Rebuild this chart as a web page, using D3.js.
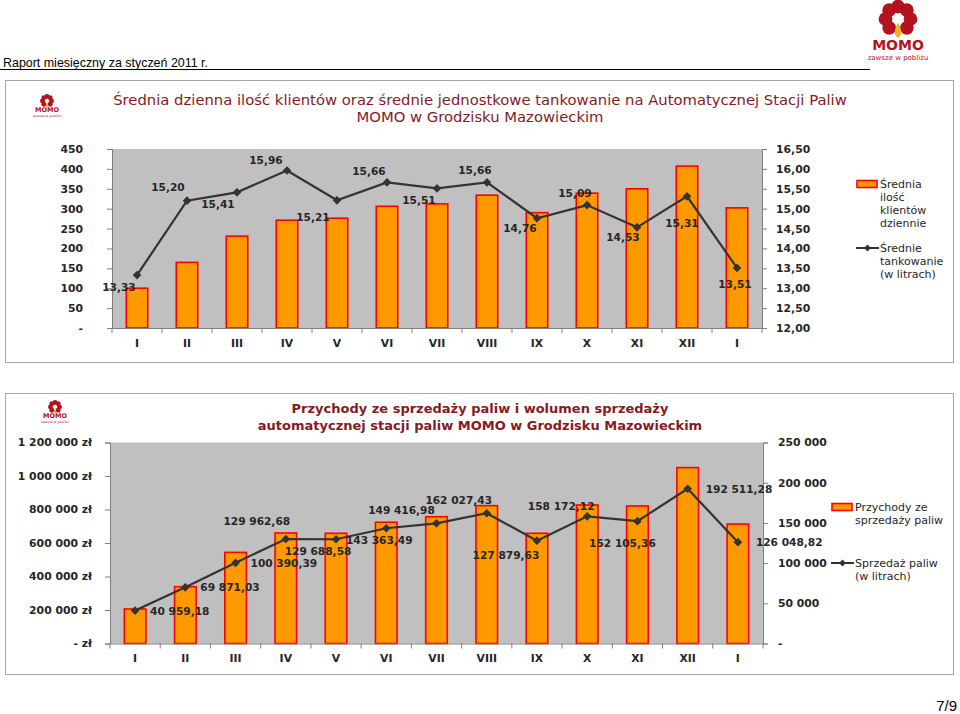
<!DOCTYPE html>
<html><head><meta charset="utf-8">
<script src="https://cdn.jsdelivr.net/npm/d3@7"></script>
<style>
html,body{margin:0;padding:0;background:#fff;}
svg{display:block;font-family:"DejaVu Sans",Verdana,sans-serif;}
</style></head>
<body>
<svg id="c" width="960" height="714"></svg>
<script>
// ---------- DATA ----------
const months = ["I","II","III","IV","V","VI","VII","VIII","IX","X","XI","XII","I "];
const monthLabels = ["I","II","III","IV","V","VI","VII","VIII","IX","X","XI","XII","I"];
// chart 1
const clientsPerDay = [100,165,231,271,276,306,312,334,290,339,350,407,302];
const avgFueling = [13.33,15.20,15.41,15.96,15.21,15.66,15.51,15.66,14.76,15.09,14.53,15.31,13.51];
const leftTicks1 = [0,50,100,150,200,250,300,350,400,450];
const rightTicks1 = [12.0,12.5,13.0,13.5,14.0,14.5,15.0,15.5,16.0,16.5];
// chart 2
const revenue = [206000,339000,544000,660000,658000,724000,757000,823000,658000,827000,821000,1050000,713000];
const volumeLitres = [40959.18,69871.03,100390.39,129962.68,129688.58,143363.49,149416.98,162027.43,127879.63,158172.12,152105.36,192511.28,126048.82];
const leftTicks2 = [0,200000,400000,600000,800000,1000000,1200000];
const rightTicks2 = [0,50000,100000,150000,200000,250000];

const title1 = ["Średnia dzienna ilość klientów oraz średnie jednostkowe tankowanie na Automatycznej Stacji Paliw","MOMO w Grodzisku Mazowieckim"];
const title2 = ["Przychody ze sprzedaży paliw i wolumen sprzedaży","automatycznej stacji paliw MOMO w Grodzisku Mazowieckim"];
const legend1 = [["Średnia","ilość","klientów","dziennie"],["Średnie","tankowanie","(w litrach)"]];
const legend2 = [["Przychody ze","sprzedaży paliw"],["Sprzedaż paliw","(w litrach)"]];

// ---------- LAYOUT (label placements) ----------
const lbl1 = [[-18,12],[-19,-14],[-19,12],[-21,-10],[-24,17],[-18,-11],[-18,12],[-12,-12],[-17,10],[-12,-12],[-14,10],[-5,27],[-2,16]];
const lbl2 = [["start",15,0],["start",15,0],["start",15,0],["middle",-29,-18],["middle",-18,12],["middle",-7,12],["middle",-35,-13],["middle",-28,-13],["middle",-31,14],["middle",-26,-10],["middle",-15,22],["start",18,0],["start",18,0]];

const pl = d3.formatLocale({decimal:",", thousands:"\u00a0", grouping:[3], currency:["",""]});
const f2 = pl.format(".2f");
const fth = pl.format(",.2f");
const fint = pl.format(",d");

const svg = d3.select("#c");
const DARKRED = "#861a1f";
const TXT = "#262626";
const BG = "#c0c0c0";
const AX = "#7f7f7f";

// ---------- logo ----------
function logo(g, cx, cy, r, withText, txtSize) {
  const n = 8;
  for (let i = 0; i < n; i++) {
    const a = i / n * Math.PI * 2 - Math.PI/2;
    if (i === n/2) continue;
    g.append("circle").attr("cx", cx + Math.cos(a)*r).attr("cy", cy + Math.sin(a)*r)
      .attr("r", r*0.55).attr("fill", "#b3121e");
  }
  g.append("path")
    .attr("d", `M${cx},${cy+r*0.3} Q${cx+r*0.5},${cy+r*1.2} ${cx},${cy+r*1.5} Q${cx-r*0.5},${cy+r*1.2} ${cx},${cy+r*0.3}Z`)
    .attr("fill", "#f2b21c");
  if (withText) {
    g.append("text").attr("x", cx).attr("y", cy + r*2.45).attr("text-anchor","middle")
      .attr("font-weight","bold").attr("font-size", txtSize).attr("fill","#b3121e").text("MOMO");
    g.append("text").attr("x", cx).attr("y", cy + r*2.45 + txtSize*0.75).attr("text-anchor","middle")
      .attr("font-size", txtSize*0.5).attr("fill","#b3121e").text("zawsze w pobliżu");
  }
}

// ---------- header ----------
svg.append("text").attr("x",3).attr("y",67).attr("font-family","'Liberation Sans',sans-serif")
  .attr("font-size",13.5).attr("fill","#000").attr("textLength",205).attr("lengthAdjust","spacingAndGlyphs")
  .text("Raport miesięczny za styczeń 2011 r.");
svg.append("line").attr("x1",0).attr("x2",870).attr("y1",69.5).attr("y2",69.5).attr("stroke","#000").attr("stroke-width",1);
logo(svg.append("g"), 898, 19, 12.5, true, 14);

// page number
svg.append("text").attr("x",957).attr("y",711).attr("text-anchor","end").attr("font-family","'Liberation Sans',sans-serif")
  .attr("font-size",15).attr("fill","#000").text("7/9");

// ---------- generic chart ----------
function chart(cfg) {
  const g = svg.append("g");
  g.append("rect").attr("x",cfg.box[0]+0.5).attr("y",cfg.box[1]+0.5).attr("width",cfg.box[2]).attr("height",cfg.box[3])
    .attr("fill","#fff").attr("stroke","#a6a6a6");
  logo(g.append("g"), cfg.logo[0], cfg.logo[1], 4.5, true, 6.5);
  cfg.title.forEach((t,i)=>{
    g.append("text").attr("x",480).attr("y",cfg.titleY + i*cfg.titleLH).attr("text-anchor","middle")
      .attr("font-size",cfg.titleSize).attr("font-weight",cfg.titleWeight).attr("fill",DARKRED).text(t);
  });
  const [L,T,R,B] = cfg.plot;
  g.append("rect").attr("x",L).attr("y",T).attr("width",R-L).attr("height",B-T).attr("fill",BG);
  const x = d3.scaleBand().domain(months).range([L,R]).paddingInner(0.57).paddingOuter(0.285);
  const yL = d3.scaleLinear().domain(cfg.leftDomain).range([B,T]);
  const yR = d3.scaleLinear().domain(cfg.rightDomain).range([B,T]);

  // bars
  g.selectAll(".bar").data(cfg.bars).join("rect")
    .attr("x",(d,i)=>x(months[i])).attr("width",x.bandwidth())
    .attr("y",d=>yL(d)).attr("height",d=>B-yL(d))
    .attr("fill","#ff9900").attr("stroke","#ff0000").attr("stroke-width",1.6);

  // axes
  const axL = d3.axisLeft(yL).tickValues(cfg.leftTicks).tickSize(5).tickPadding(cfg.leftPad).tickFormat(cfg.leftFmt);
  const gL = g.append("g").attr("transform",`translate(${L},0)`).call(axL);
  const axR = d3.axisRight(yR).tickValues(cfg.rightTicks).tickSize(5).tickPadding(cfg.rightPad).tickFormat(cfg.rightFmt);
  const gR = g.append("g").attr("transform",`translate(${R},0)`).call(axR);
  const axB = d3.axisBottom(x).tickSize(0).tickPadding(11).tickFormat((d,i)=>monthLabels[i]);
  const gB = g.append("g").attr("transform",`translate(0,${B})`).call(axB);
  [gL,gR,gB].forEach(a=>{
    a.select(".domain").attr("stroke",AX);
    a.selectAll(".tick line").attr("stroke",AX);
    a.selectAll("text").attr("font-family","'DejaVu Sans',Verdana,sans-serif").attr("font-weight","bold")
      .attr("font-size",10.8).attr("fill",TXT);
  });
  // category boundary ticks
  g.selectAll(".ct").data(d3.range(months.length+1)).join("line")
    .attr("x1",i=>L + i*x.step()).attr("x2",i=>L + i*x.step()).attr("y1",B).attr("y2",B+5).attr("stroke",AX);

  // line
  const cx = i => x(months[i]) + x.bandwidth()/2;
  g.append("path").datum(cfg.line)
    .attr("d", d3.line().x((d,i)=>cx(i)).y(d=>yR(d)))
    .attr("fill","none").attr("stroke","#333").attr("stroke-width",2.2);
  g.selectAll(".mk").data(cfg.line).join("path")
    .attr("transform",(d,i)=>`translate(${cx(i)},${yR(d)})`)
    .attr("d", d3.symbol(d3.symbolDiamond2, 48)).attr("fill","#333");

  // labels
  g.selectAll(".lb").data(cfg.line).join("text")
    .attr("x",(d,i)=>cx(i) + cfg.lblPos(i).dx)
    .attr("y",(d,i)=>yR(d) + cfg.lblPos(i).dy)
    .attr("text-anchor",(d,i)=>cfg.lblPos(i).anchor)
    .attr("dominant-baseline","central")
    .attr("font-weight","bold").attr("font-size",10.6).attr("fill",TXT)
    .text(d=>cfg.lblFmt(d));

  // legend
  const lg = g.append("g");
  const [lx, ly1, ly2] = cfg.legend;
  lg.append("rect").attr("x",lx).attr("y",ly1-3.5).attr("width",20).attr("height",7)
    .attr("fill","#ff9900").attr("stroke","#ff0000").attr("stroke-width",1.6);
  cfg.legendText[0].forEach((t,i)=>lg.append("text").attr("x",lx+23).attr("y",ly1+i*cfg.legLH)
    .attr("dominant-baseline","central").attr("font-size",11).attr("fill",TXT).text(t));
  lg.append("line").attr("x1",lx-1).attr("x2",lx+22).attr("y1",ly2).attr("y2",ly2).attr("stroke","#333").attr("stroke-width",2);
  lg.append("path").attr("transform",`translate(${lx+10.5},${ly2})`).attr("d",d3.symbol(d3.symbolDiamond2,30)).attr("fill","#333");
  cfg.legendText[1].forEach((t,i)=>lg.append("text").attr("x",lx+23).attr("y",ly2+i*cfg.legLH)
    .attr("dominant-baseline","central").attr("font-size",11).attr("fill",TXT).text(t));
}

chart({
  box:[5,80,948,282], logo:[47,101], title:title1, titleY:105, titleLH:17, titleSize:14.8, titleWeight:"normal",
  plot:[112,149,762,328], leftDomain:[0,450], rightDomain:[12,16.5],
  bars:clientsPerDay, line:avgFueling,
  leftTicks:leftTicks1, rightTicks:rightTicks1, leftPad:24, rightPad:9,
  leftFmt:d=>d===0?"-":d, rightFmt:d=>f2(d),
  lblPos:i=>({anchor:"middle",dx:lbl1[i][0],dy:lbl1[i][1]}), lblFmt:d=>f2(d),
  legend:[857,184,248], legendText:legend1, legLH:13
});

chart({
  box:[5,393,948,281], logo:[55,407], title:title2, titleY:413, titleLH:16.5, titleSize:13, titleWeight:"bold",
  plot:[110,442.5,763,643.5], leftDomain:[0,1200000], rightDomain:[0,250000],
  bars:revenue, line:volumeLitres,
  leftTicks:leftTicks2, rightTicks:rightTicks2, leftPad:13, rightPad:10,
  leftFmt:d=>d===0?"- zł":fint(d)+" zł", rightFmt:d=>d===0?"-":fint(d),
  lblPos:i=>({anchor:lbl2[i][0],dx:lbl2[i][1],dy:lbl2[i][2]}), lblFmt:d=>fth(d),
  legend:[832,507,563], legendText:legend2, legLH:13
});
</script>
</body></html>
